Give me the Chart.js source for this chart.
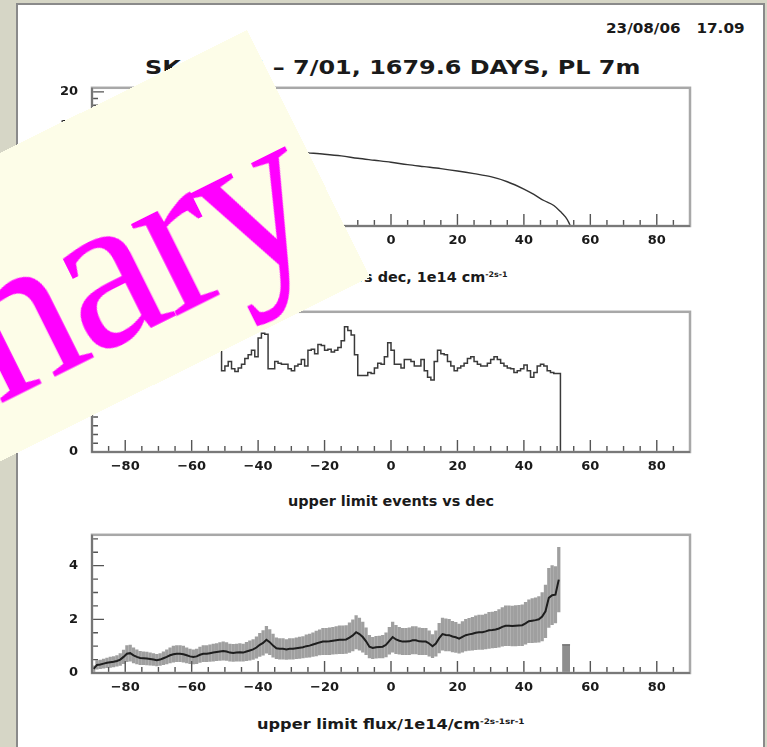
<!DOCTYPE html>
<html>
<head>
<meta charset="utf-8">
<script src="https://cdn.jsdelivr.net/npm/chart.js@4.4.1/dist/chart.umd.min.js"></script>
<style>
  body { margin:0; width:767px; height:747px; overflow:hidden; position:relative;
         background:#d6d6c6; font-family:'DejaVu Sans', sans-serif; }
  #page { position:absolute; left:16px; top:3px; width:749px; height:800px; background:#fff;
          border:2px solid #8a8a8a; box-sizing:border-box; }
  canvas.panel { position:absolute; left:0; }
  .txt { position:absolute; left:0; top:0; white-space:pre; color:#1a1a1a; font-weight:bold;
         transform-origin:0 50%; }
  .txt sup { font-size:0.55em; vertical-align:0.7em; }
  #stamp { position:absolute; left:-453px; top:30px; width:700px; height:276px;
           background:#fdfde8; transform-origin:100% 0; transform:rotate(-26.5deg); overflow:hidden; }
  #stamp span { position:absolute; right:24px; top:38px; font:222px 'Liberation Serif', serif;
                letter-spacing:-7px; line-height:1; color:#ff00ff; white-space:nowrap; }
</style>
</head>
<body>
<div id="page"></div>

<div class="txt" id="stamptime" style="font-size:14px">23/08/06   17.09</div>
<div class="txt" id="title" style="font-size:20px">SK-I 4/96 – 7/01, 1679.6 DAYS, PL 7m</div>
<div class="txt" id="cap1" style="font-size:14px">sensitivity vs dec, 1e14 cm<sup>-2s-1</sup></div>
<div class="txt" id="cap2" style="font-size:14px">upper limit events vs dec</div>
<div class="txt" id="cap3" style="font-size:14px">upper limit flux/1e14/cm<sup>-2s-1sr-1</sup></div>

<canvas class="panel" id="sensCanvas" width="767" height="196" style="top:66px"></canvas>
<canvas class="panel" id="eventsCanvas" width="767" height="198" style="top:290px"></canvas>
<canvas class="panel" id="fluxCanvas" width="767" height="196" style="top:513px"></canvas>

<div id="stamp"><span>Preliminary</span></div>

<script>
// ---- data ----
const decTicks = [-80, -60, -40, -20, 0, 20, 40, 60, 80];
const binStart = -90;   // 1 degree bins from -90 to 51

// top panel: curve vs dec
const sensDec = [-90, -85, -80, -75, -70, -65, -60, -55, -50, -45, -40, -35, -30, -25, -20, -15,
                 -10, -5, 0, 5, 10, 15, 20, 25, 30, 35, 40, 43, 46, 49, 51, 52.5, 53.5, 54];
const sensVal = [15.6, 15.0, 14.5, 14.0, 13.6, 13.2, 12.8, 12.4, 12.1, 11.8, 11.5, 11.3, 11.1, 10.9, 10.7, 10.45,
                 10.1, 9.8, 9.5, 9.15, 8.85, 8.55, 8.2, 7.8, 7.35, 6.6, 5.5, 4.7, 3.8, 3.05, 2.15, 1.35, 0.55, 0];
const sensTicks = [0, 5, 10, 15, 20];

// middle panel: upper limit events per bin
const eventsVal = [
  6.4, 6.6, 6.3, 6.1, 6.5, 6.8, 6.6, 6.2, 6.0, 6.3,
  6.5, 6.7, 6.4, 6.2, 6.6, 6.9, 6.5, 6.3, 6.1, 6.4,
  6.6, 6.3, 6.2, 6.4, 6.5, 6.7, 6.4, 6.3, 6.5, 6.6,
  6.8, 6.9, 7.0, 7.1, 6.9, 7.0, 7.2, 7.0, 6.9, 7.1,
  4.64, 4.91, 5.17, 4.75, 4.59, 4.80, 5.01, 5.33, 5.55, 5.81,
  5.44, 6.51, 6.77, 6.72, 4.75, 4.75, 5.17, 5.07, 5.01, 5.01,
  4.75, 4.64, 4.91, 5.01, 5.28, 4.91, 5.81, 5.87, 5.60, 6.13,
  6.08, 5.81, 5.87, 5.71, 5.81, 5.97, 6.35, 7.15, 6.93, 6.67,
  5.55, 4.37, 4.37, 4.37, 4.53, 4.48, 4.80, 5.07, 5.01, 5.44,
  6.24, 5.81, 5.01, 5.01, 4.80, 5.28, 5.28, 5.17, 4.91, 4.91,
  5.28, 4.64, 4.27, 4.11, 5.17, 5.81, 5.60, 5.55, 5.17, 4.91,
  4.64, 4.80, 4.91, 5.07, 5.33, 5.44, 5.17, 5.01, 4.91, 4.91,
  5.07, 5.28, 5.44, 5.28, 5.07, 4.91, 4.80, 4.75, 4.53, 4.64,
  4.75, 4.96, 4.64, 4.27, 4.53, 4.91, 5.01, 4.91, 4.64, 4.53, 4.48
];
const eventsTicks = [0, 5];

// bottom panel: upper limit flux with errors
const fluxVal = [
  0.15, 0.3, 0.32, 0.35, 0.38, 0.4, 0.42, 0.45, 0.5, 0.6,
  0.72, 0.74, 0.66, 0.6, 0.56, 0.55, 0.54, 0.52, 0.5, 0.48,
  0.5, 0.55, 0.6, 0.66, 0.7, 0.72, 0.72, 0.7, 0.66, 0.62,
  0.6, 0.62, 0.68, 0.72, 0.72, 0.74, 0.76, 0.78, 0.8, 0.82,
  0.8, 0.76, 0.75, 0.76, 0.77, 0.76, 0.8, 0.84, 0.88, 0.95,
  1.05, 1.12, 1.24, 1.15, 1.02, 0.92, 0.9, 0.9, 0.88, 0.9,
  0.9, 0.92, 0.94, 0.96, 1.0, 1.02, 1.06, 1.1, 1.14, 1.17,
  1.17, 1.18, 1.2, 1.22, 1.24, 1.24, 1.25, 1.32, 1.4, 1.52,
  1.45, 1.34, 1.18, 0.98, 0.93, 0.96, 0.97, 0.98, 1.05, 1.2,
  1.34, 1.25, 1.2, 1.17, 1.17, 1.18, 1.22, 1.22, 1.18, 1.17,
  1.17, 1.1, 1.0, 1.1, 1.3, 1.45, 1.42, 1.41, 1.36, 1.33,
  1.28, 1.35, 1.41, 1.44, 1.46, 1.5, 1.52, 1.52, 1.55, 1.59,
  1.6, 1.62, 1.66, 1.72, 1.76, 1.76, 1.75, 1.76, 1.77, 1.78,
  1.85, 1.93, 1.95, 1.97, 2.0, 2.1, 2.3, 2.8, 2.9, 2.92, 3.48
];
const fluxErr = [
  0.12, 0.16, 0.16, 0.17, 0.18, 0.19, 0.19, 0.2, 0.22, 0.25,
  0.3, 0.3, 0.28, 0.26, 0.25, 0.24, 0.24, 0.23, 0.22, 0.22,
  0.22, 0.24, 0.26, 0.28, 0.3, 0.3, 0.3, 0.3, 0.28, 0.27,
  0.26, 0.27, 0.29, 0.3, 0.3, 0.31, 0.32, 0.32, 0.33, 0.34,
  0.33, 0.32, 0.32, 0.32, 0.33, 0.32, 0.34, 0.36, 0.37, 0.4,
  0.43, 0.46, 0.5, 0.47, 0.43, 0.39, 0.38, 0.38, 0.37, 0.38,
  0.38, 0.39, 0.4, 0.4, 0.42, 0.43, 0.44, 0.46, 0.47, 0.49,
  0.49, 0.5, 0.5, 0.51, 0.52, 0.52, 0.52, 0.55, 0.58, 0.62,
  0.6, 0.56, 0.5, 0.42, 0.4, 0.41, 0.41, 0.42, 0.45, 0.5,
  0.56, 0.53, 0.5, 0.49, 0.49, 0.5, 0.51, 0.51, 0.5, 0.49,
  0.49, 0.47, 0.43, 0.47, 0.55, 0.6, 0.6, 0.59, 0.57, 0.56,
  0.54, 0.57, 0.59, 0.6, 0.61, 0.63, 0.64, 0.64, 0.65, 0.67,
  0.67, 0.68, 0.7, 0.72, 0.74, 0.74, 0.74, 0.75, 0.75, 0.76,
  0.78, 0.8, 0.82, 0.83, 0.85, 0.9, 0.98, 1.1, 1.1, 1.05, 1.2
];
const overflowX = [51.5, 53.9];
const overflowY = [1.05, 1.05];
const fluxTicks = [0, 2, 4];

// ---- helpers ----
function fmt(v) {
    return v < 0 ? '\u2212' + Math.abs(v) : String(v);
}

// PAW style frame with inward ticks
const pawFrame = {
    id: 'pawFrame',
    beforeDatasetsDraw(chart, args, opts) {
        const {ctx, chartArea: a, scales: {x, y}} = chart;
        ctx.save();
        ctx.strokeStyle = '#555';
        ctx.lineWidth = 1.4;
        ctx.beginPath();
        for (let v = x.min + 5; v < x.max; v += 5) {
            const px = x.getPixelForValue(v);
            const len = decTicks.includes(v) ? 12 : 6;
            ctx.moveTo(px, a.bottom);
            ctx.lineTo(px, a.bottom - len);
        }
        for (let v = opts.yMinor; v < y.max; v += opts.yMinor) {
            const r = Math.round(v * 100) / 100;
            const py = y.getPixelForValue(r);
            const len = opts.yMajor.includes(r) ? 12 : 6;
            ctx.moveTo(a.left, py);
            ctx.lineTo(a.left + len, py);
        }
        ctx.stroke();
        ctx.restore();
    },
    afterDatasetsDraw(chart) {
        const {ctx, chartArea: a} = chart;
        ctx.save();
        ctx.strokeStyle = '#a8a8a8';
        ctx.lineWidth = 2.5;
        ctx.strokeRect(a.left, a.top, a.right - a.left, a.bottom - a.top);
        ctx.strokeStyle = '#6a6a6a';
        ctx.lineWidth = 1.6;
        ctx.beginPath();
        ctx.moveTo(a.left, a.top);
        ctx.lineTo(a.left, a.bottom);
        ctx.lineTo(a.right, a.bottom);
        ctx.stroke();
        ctx.restore();
    }
};

Chart.defaults.font.family = "'DejaVu Sans', sans-serif";
Chart.defaults.font.size = 13;
Chart.defaults.font.weight = 'bold';
Chart.defaults.color = '#1a1a1a';

function panelOptions(yMax, yTicks, yMinor) {
    return {
        responsive: false,
        animation: false,
        layout: { padding: { top: 12, right: 77, left: 0, bottom: 0 } },
        plugins: {
            legend: { display: false },
            tooltip: { enabled: false },
            pawFrame: { yMinor: yMinor, yMajor: yTicks }
        },
        scales: {
            x: {
                type: 'linear', min: -90, max: 90, offset: false,
                grid: { display: false, drawTicks: false },
                border: { display: false },
                afterBuildTicks: s => { s.ticks = decTicks.map(v => ({ value: v })); },
                afterFit: s => { s.height = 36; },
                ticks: { padding: 7, maxRotation: 0, autoSkip: false, callback: v => fmt(v) }
            },
            y: {
                type: 'linear', min: 0, max: yMax,
                grid: { display: false, drawTicks: false },
                border: { display: false },
                afterBuildTicks: s => { s.ticks = yTicks.map(v => ({ value: v })); },
                afterFit: s => { s.width = 92; },
                ticks: { padding: 14, callback: v => fmt(v) }
            }
        }
    };
}

// ---- top panel ----
new Chart(document.getElementById('sensCanvas'), {
    type: 'line',
    data: {
        datasets: [{
            data: sensDec.map((d, i) => ({ x: d, y: sensVal[i] })),
            borderColor: '#333',
            borderWidth: 1.4,
            pointRadius: 0,
            cubicInterpolationMode: 'monotone'
        }]
    },
    options: panelOptions(20.6, sensTicks, 1),
    plugins: [pawFrame]
});

// ---- middle panel: step histogram ----
const eventsLast = eventsVal[eventsVal.length - 1];
const eventsEnd = binStart + eventsVal.length;
const eventsPts = [{ x: binStart, y: 0 }]
    .concat(eventsVal.map((v, i) => ({ x: binStart + i, y: v })))
    .concat([{ x: eventsEnd, y: eventsLast }, { x: eventsEnd, y: 0 }]);

new Chart(document.getElementById('eventsCanvas'), {
    type: 'line',
    data: {
        datasets: [{
            data: eventsPts,
            stepped: 'after',
            borderColor: '#3a3a3a',
            borderWidth: 1.5,
            pointRadius: 0
        }]
    },
    options: panelOptions(8, eventsTicks, 0.5),
    plugins: [pawFrame]
});

// ---- bottom panel: flux with error bars ----
new Chart(document.getElementById('fluxCanvas'), {
    type: 'line',
    data: {
        datasets: [
            {
                data: fluxVal.map((v, i) => ({ x: binStart + i + 0.5, y: v })),
                borderColor: '#1e1e1e',
                borderWidth: 2,
                pointRadius: 0
            },
            {
                type: 'bar',
                data: fluxVal.map((v, i) => ({ x: binStart + i + 0.5, y: [v - fluxErr[i], v + fluxErr[i]] })),
                backgroundColor: 'rgba(95,95,95,0.6)',
                barThickness: 2.6,
                borderWidth: 0
            },
            {
                data: overflowX.map((x, i) => ({ x: x, y: overflowY[i] })),
                borderColor: '#555',
                borderWidth: 1,
                backgroundColor: '#8e8e8e',
                fill: 'origin',
                pointRadius: 0
            }
        ]
    },
    options: panelOptions(5.15, fluxTicks, 0.5),
    plugins: [pawFrame]
});

// ---- text placement (scanned plot text is wide) ----
function place(id, x0, x1, cy) {
    const el = document.getElementById(id);
    const s = (x1 - x0) / el.offsetWidth;
    el.style.left = x0 + 'px';
    el.style.top = (cy - el.offsetHeight / 2) + 'px';
    el.style.transform = 'scaleX(' + s + ')';
    return s;
}
place('stamptime', 606, 745, 28);
place('title', 145, 640, 67);
const capScale = place('cap2', 288, 494, 501);
place('cap3', 257, 525, 724);
const cap1 = document.getElementById('cap1');
cap1.style.left = (508 - cap1.offsetWidth * capScale) + 'px';
cap1.style.top = (277 - cap1.offsetHeight / 2) + 'px';
cap1.style.transform = 'scaleX(' + capScale + ')';
</script>
</body>
</html>
